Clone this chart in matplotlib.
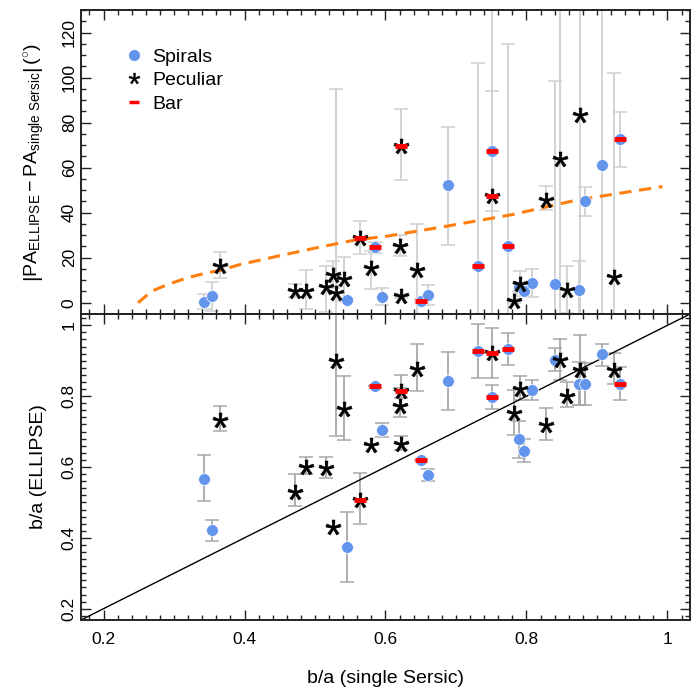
import matplotlib
matplotlib.use('Agg')
import matplotlib.pyplot as plt
from matplotlib.ticker import MultipleLocator
from matplotlib.lines import Line2D
import numpy as np

plt.rcParams['font.family'] = ['Liberation Sans', 'DejaVu Sans']
plt.rcParams['mathtext.fontset'] = 'custom'
plt.rcParams['mathtext.rm'] = 'Liberation Sans'
plt.rcParams['mathtext.it'] = 'Liberation Sans:italic'
plt.rcParams['mathtext.bf'] = 'Liberation Sans:bold'

# ---------------- data ----------------
ba_sersic = [0.342, 0.354, 0.365, 0.472, 0.487, 0.515, 0.526, 0.530, 0.541, 0.546,
             0.564, 0.580, 0.585, 0.595, 0.622, 0.621, 0.622, 0.645, 0.650, 0.661,
             0.688, 0.731, 0.751, 0.751, 0.774, 0.782, 0.791, 0.790, 0.797, 0.808,
             0.827, 0.840, 0.847, 0.857, 0.874, 0.876, 0.883, 0.907, 0.924, 0.933]
gal_type = ['S', 'S', 'P', 'P', 'P', 'P', 'P', 'P', 'P', 'S',
            'P', 'P', 'S', 'S', 'P', 'P', 'P', 'P', 'S', 'S',
            'S', 'S', 'S', 'P', 'S', 'P', 'P', 'S', 'S', 'S',
            'P', 'S', 'P', 'P', 'S', 'P', 'S', 'S', 'P', 'S']
has_bar = [0, 0, 0, 0, 0, 0, 0, 0, 0, 0,
           1, 0, 1, 0, 1, 0, 0, 0, 1, 0,
           0, 1, 1, 1, 1, 0, 0, 0, 0, 0,
           0, 0, 0, 0, 0, 0, 0, 0, 0, 1]
pa_diff = [0.4, 3.1, 16.2, 5.1, 5.1, 7.1, 12.5, 4.4, 10.6, 1.2,
           28.8, 15.5, 24.6, 2.6, 69.8, 25.1, 2.9, 14.4, 0.7, 3.5,
           52.1, 16.2, 67.4, 47.2, 25.1, 0.7, 8.5, 7.0, 5.1, 8.9,
           45.7, 8.5, 63.9, 5.6, 5.6, 83.4, 45.0, 61.0, 11.3, 72.8]
pa_err_lo = [3.4, 6.8, 5.1, 2.6, 8.1, 11.0, 6.0, 90.0, 9.8, 1.0,
             7.0, 9.6, 2.5, 3.4, 15.5, 4.5, 1.0, 20.6, 1.0, 4.3,
             26.3, 90.0, 100.0, 6.6, 90.0, 1.0, 4.1, 2.0, 2.0, 6.2,
             4.7, 90.0, 100.0, 10.0, 13.0, 100.0, 6.3, 100.0, 90.0, 12.3]
pa_err_hi = [3.7, 6.2, 6.4, 3.4, 9.3, 9.0, 6.0, 90.4, 9.8, 1.0,
             7.4, 7.4, 2.5, 4.0, 16.1, 5.1, 1.0, 20.6, 1.0, 4.6,
             26.1, 90.1, 100.0, 47.0, 90.0, 1.0, 5.5, 2.0, 2.0, 6.2,
             6.0, 90.0, 100.0, 10.5, 13.0, 100.0, 6.4, 100.0, 90.6, 12.1]
ba_ellipse = [0.567, 0.421, 0.733, 0.530, 0.600, 0.596, 0.432, 0.899, 0.763, 0.373,
              0.508, 0.662, 0.830, 0.705, 0.815, 0.771, 0.665, 0.877, 0.619, 0.577,
              0.844, 0.927, 0.798, 0.922, 0.934, 0.752, 0.820, 0.678, 0.646, 0.818,
              0.719, 0.903, 0.901, 0.801, 0.835, 0.875, 0.835, 0.918, 0.875, 0.835]
ba_err_lo = [0.064, 0.031, 0.030, 0.041, 0.021, 0.027, 0.0, 0.211, 0.087, 0.099,
             0.068, 0.0, 0.0, 0.020, 0.020, 0.030, 0.017, 0.062, 0.0, 0.017,
             0.083, 0.077, 0.035, 0.070, 0.045, 0.062, 0.030, 0.052, 0.033, 0.028,
             0.043, 0.033, 0.054, 0.032, 0.059, 0.099, 0.060, 0.032, 0.042, 0.047]
ba_err_hi = [0.067, 0.028, 0.038, 0.049, 0.029, 0.033, 0.0, 0.210, 0.093, 0.100,
             0.074, 0.0, 0.0, 0.020, 0.046, 0.052, 0.023, 0.071, 0.0, 0.016,
             0.081, 0.078, 0.034, 0.070, 0.043, 0.066, 0.036, 0.052, 0.032, 0.029,
             0.047, 0.034, 0.061, 0.038, 0.061, 0.097, 0.060, 0.030, 0.048, 0.048]

# expected PA-difference curve
curve_ba = [0.249, 0.268, 0.291, 0.319, 0.347, 0.366, 0.394, 0.446, 0.502, 0.559,
            0.601, 0.685, 0.779, 0.873, 0.993]
curve_pa = [0.0, 5.1, 8.1, 11.1, 13.3, 14.4, 17.0, 20.6, 24.4, 28.0,
            29.5, 33.9, 39.1, 45.7, 51.6]

legend_labels = ['Spirals', 'Peculiar', 'Bar']
xticks = [0.2, 0.4, 0.6, 0.8, 1.0]
xtick_labels = ['0.2', '0.4', '0.6', '0.8', '1']
yticks_top = [0, 20, 40, 60, 80, 100, 120]
yticks_bot = [0.2, 0.4, 0.6, 0.8, 1.0]
ytick_labels_bot = ['0.2', '0.4', '0.6', '0.8', '1']

# ---------------- styling ----------------
BLUE = '#6495ED'
RED = '#FF0000'
ORANGE = '#FF7F0E'
STAR = r'$\mathrm{*}$'
LABEL_FS = 14
TICK_FS = 12.5

x = np.array(ba_sersic)
types = np.array(gal_type)
bar = np.array(has_bar, dtype=bool)
pa = np.array(pa_diff)
q = np.array(ba_ellipse)

fig = plt.figure(figsize=(7, 7), dpi=100)
ax1 = fig.add_axes([81/700, 1 - 314/700, 609/700, 304/700])
ax2 = fig.add_axes([81/700, 1 - 620/700, 609/700, 306/700])

def style_axis(ax):
    for s in ax.spines.values():
        s.set_linewidth(1.4)
        s.set_color('#222222')
    ax.tick_params(which='both', direction='in', top=True, right=True,
                   width=1.0, color='#222222', labelsize=TICK_FS)
    ax.tick_params(which='major', length=7)
    ax.tick_params(which='minor', length=3.5)
    ax.xaxis.set_minor_locator(MultipleLocator(0.02))
    ax.set_xlim(0.168, 1.032)
    ax.set_xticks(xticks)

STAR_MS = 11

# ---- top panel ----
ax = ax1
style_axis(ax)
ax.errorbar(x, pa, yerr=[pa_err_lo, pa_err_hi], fmt='none', ecolor='#d0d0d0',
            elinewidth=1.3, capsize=5, capthick=1.1, zorder=1)
ax.plot(curve_ba, curve_pa, color=ORANGE, lw=2.2, ls=(0, (4, 2.5)), zorder=2)
s = types == 'S'
p = types == 'P'
ax.plot(x[s], pa[s], 'o', color=BLUE, ms=8.5, mec='white', mew=0.5, zorder=3)
ax.plot(x[p], pa[p], ls='none', marker=STAR, color='black', ms=STAR_MS, mew=0.4, zorder=3)
ax.plot(x[bar], pa[bar], ls='none', marker='_', color=RED, ms=9, mew=3.5, zorder=4)
ax.set_ylim(-5, 130)
ax.set_yticks(yticks_top)
ax.yaxis.set_minor_locator(MultipleLocator(5))
ax.set_xticklabels([])
ax.tick_params(axis='y', rotation=90, pad=3)
for lab in ax.get_yticklabels():
    lab.set_va('center')
ax.set_ylabel(r'$\left|\mathrm{PA}_{\mathrm{ELLIPSE}}-\mathrm{PA}_{\mathrm{single\ Sersic}}\right|\,(^{\circ})$',
              fontsize=LABEL_FS, labelpad=11)

handles = [Line2D([], [], ls='none', marker='o', color=BLUE, ms=7),
           Line2D([], [], ls='none', marker=STAR, color='black', ms=8, mew=0.3),
           Line2D([], [], ls='none', marker='_', color=RED, ms=7, mew=2.5)]
ax.legend(handles, legend_labels, loc='upper left', bbox_to_anchor=(0.058, 0.9),
          frameon=False, fontsize=LABEL_FS, handlelength=1.0, handletextpad=0.45,
          labelspacing=0.3, borderaxespad=0)

# ---- bottom panel ----
ax = ax2
style_axis(ax)
ax.errorbar(x, q, yerr=[ba_err_lo, ba_err_hi], fmt='none', ecolor='#a8a8a8',
            elinewidth=1.3, capsize=5, capthick=1.1, zorder=1)
ax.plot([0, 1.1], [0, 1.1], color='black', lw=1.0, zorder=2)
ax.plot(x[s], q[s], 'o', color=BLUE, ms=8.5, mec='white', mew=0.5, zorder=3)
ax.plot(x[p], q[p], ls='none', marker=STAR, color='black', ms=STAR_MS, mew=0.4, zorder=3)
ax.plot(x[bar], q[bar], ls='none', marker='_', color=RED, ms=9, mew=3.5, zorder=4)
ax.set_ylim(0.168, 1.032)
ax.set_yticks(yticks_bot)
ax.set_yticklabels(ytick_labels_bot)
ax.yaxis.set_minor_locator(MultipleLocator(0.02))
ax.set_xticklabels(xtick_labels)
ax.tick_params(axis='x', pad=9)
ax.tick_params(axis='y', rotation=90, pad=3)
for lab in ax.get_yticklabels():
    lab.set_va('center')
ax.set_ylabel('b/a (ELLIPSE)', fontsize=LABEL_FS, labelpad=11)
ax.set_xlabel('b/a (single Sersic)', fontsize=LABEL_FS, labelpad=16)

fig.savefig('out.png', dpi=100)
